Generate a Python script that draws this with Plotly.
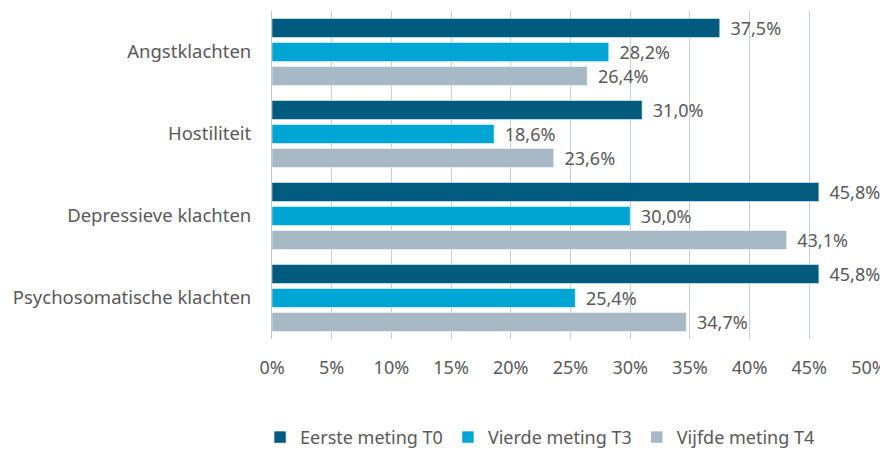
import plotly.graph_objects as go

# categorieën en meetmomenten
categories = ["Angstklachten", "Hostiliteit", "Depressieve klachten", "Psychosomatische klachten"]
t0 = [37.5, 31.0, 45.8, 45.8]
t3 = [28.2, 18.6, 30.0, 25.4]
t4 = [26.4, 23.6, 43.1, 34.7]
series_names = ["Eerste meting T0", "Vierde meting T3", "Vijfde meting T4"]
colors = ["#005b7f", "#00a6d3", "#a6b9c4"]

txt_color = "#595959"
font_family = "Noto Sans"


def fmt(v):
    # komma als decimaalteken
    return " \u2009" + f"{v:.1f}%".replace(".", ",")


fig = go.Figure()
for name, vals, col in zip(series_names, [t0, t3, t4], colors):
    fig.add_trace(go.Bar(
        y=categories,
        x=vals,
        name=name,
        orientation="h",
        marker=dict(color=col, line=dict(color="white", width=0.5)),
        text=[fmt(v) for v in vals],
        textposition="outside",
        constraintext="none",
        textfont=dict(color=txt_color, size=18, family=font_family),
        cliponaxis=False,
    ))

# pagina heeft 8px body-marge, dus figuur iets kleiner
fig.update_layout(
    width=880,
    height=443,
    barmode="group",
    bargap=0.122,
    bargroupgap=0.208,
    plot_bgcolor="white",
    paper_bgcolor="white",
    margin=dict(l=264, r=19, t=3, b=112, autoexpand=False),
    font=dict(family=font_family, color=txt_color, size=18),
    showlegend=True,
    legend=dict(
        orientation="h",
        x=-0.02, xanchor="left",
        y=-0.30, yanchor="middle",
        font=dict(size=18, color=txt_color),
        traceorder="normal",
    ),
)

fig.update_xaxes(
    range=[0, 50],
    dtick=5,
    ticksuffix="%",
    showgrid=True,
    gridcolor="#c5d1da",
    gridwidth=1,
    zeroline=False,
    showline=False,
    tickfont=dict(size=18, color=txt_color),
    ticklabelstandoff=16,
    automargin=False,
)
fig.update_yaxes(
    autorange="reversed",
    showgrid=False,
    showline=True,
    linecolor="#b8c6d1",
    tickfont=dict(size=18.5, color=txt_color),
    ticklabelstandoff=16,
    automargin=False,
)

fig.write_html("out.html")
